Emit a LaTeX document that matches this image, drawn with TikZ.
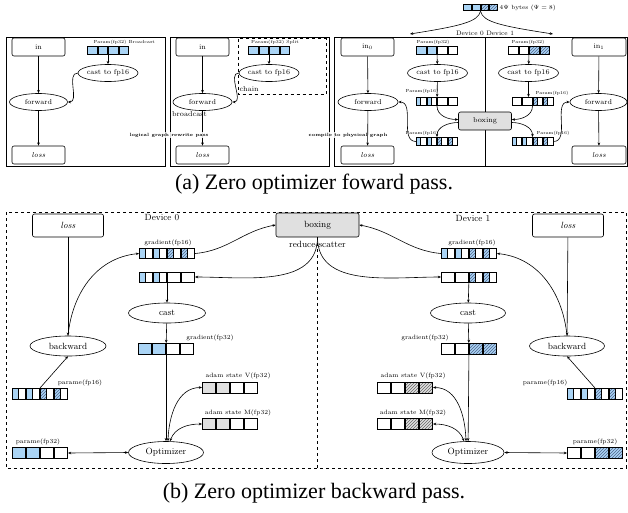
\documentclass[tikz,border=0pt]{standalone}
\usepackage{fontspec}
\newfontfamily\capfont{Liberation Serif}
\usetikzlibrary{shapes.geometric,patterns,arrows.meta}
\definecolor{fpblue}{RGB}{170,212,245}
\definecolor{fpgray}{RGB}{224,224,224}
\definecolor{hatchc}{RGB}{80,100,140}
\tikzset{
 cellline/.style={line width=0.7pt, draw=black},
 rowbox/.style={inner sep=0pt, outer sep=0pt, draw=none},
 rbox/.style={draw, rounded corners=2pt, line width=0.6pt, inner sep=0pt},
 ebox/.style={draw, ellipse, line width=0.6pt, inner sep=0pt},
 arr/.style={-{Stealth[length=3.2pt,width=2.6pt]}, line width=0.6pt},
 darr/.style={{Stealth[length=3.2pt,width=2.6pt]}-{Stealth[length=3.2pt,width=2.6pt]}, line width=0.6pt},
 fa/.style={font=\fontsize{7.2}{8}\selectfont},
 fb/.style={font=\fontsize{9}{10}\selectfont},
 tinyl/.style={font=\fontsize{4.4}{5}\selectfont, inner sep=0.3pt},
 smalll/.style={font=\fontsize{6.2}{7}\selectfont, inner sep=0.3pt},
 passl/.style={font=\fontsize{4.6}{5}\selectfont\bfseries, fill=white, fill opacity=0.85, text opacity=1, inner sep=0.8pt},
 capl/.style={font=\capfont\fontsize{22}{26}\selectfont, inner sep=0pt},
}
\newcommand{\zcW}[4]{\draw[cellline,fill=white] (#1+0.5,#2-0.5) rectangle (#1+#3-0.5,#2-#4+0.5);}
\newcommand{\zcB}[4]{\draw[cellline,fill=fpblue] (#1+0.5,#2-0.5) rectangle (#1+#3-0.5,#2-#4+0.5);}
\newcommand{\zcG}[4]{\draw[cellline,fill=fpgray] (#1+0.5,#2-0.5) rectangle (#1+#3-0.5,#2-#4+0.5);}
\newcommand{\zcH}[4]{\fill[fpblue] (#1+0.5,#2-0.5) rectangle (#1+#3-0.5,#2-#4+0.5);
 \fill[pattern=north east lines,pattern color=hatchc] (#1+0.5,#2-0.5) rectangle (#1+#3-0.5,#2-#4+0.5);
 \draw[cellline] (#1+0.5,#2-0.5) rectangle (#1+#3-0.5,#2-#4+0.5);}
\newcommand{\zcK}[4]{\fill[fpgray] (#1+0.5,#2-0.5) rectangle (#1+#3-0.5,#2-#4+0.5);
 \fill[pattern=north east lines,pattern color=black!60] (#1+0.5,#2-0.5) rectangle (#1+#3-0.5,#2-#4+0.5);
 \draw[cellline] (#1+0.5,#2-0.5) rectangle (#1+#3-0.5,#2-#4+0.5);}
\newcommand{\zcb}[4]{\fill[white] (#1+0.5,#2-0.5) rectangle (#1+#3-0.5,#2-#4+0.5);
 \fill[fpblue] (#1+0.5,#2-0.5) rectangle (#1+0.42*#3,#2-#4+0.5);
 \draw[cellline] (#1+0.5,#2-0.5) rectangle (#1+#3-0.5,#2-#4+0.5);
 \draw[cellline] (#1+0.42*#3,#2-0.5) -- (#1+0.42*#3,#2-#4+0.5);}
\newcommand{\zch}[4]{\fill[white] (#1+0.5,#2-0.5) rectangle (#1+#3-0.5,#2-#4+0.5);
 \fill[fpblue] (#1+0.5,#2-0.5) rectangle (#1+0.42*#3,#2-#4+0.5);
 \fill[pattern=north east lines,pattern color=hatchc] (#1+0.5,#2-0.5) rectangle (#1+0.42*#3,#2-#4+0.5);
 \draw[cellline] (#1+0.5,#2-0.5) rectangle (#1+#3-0.5,#2-#4+0.5);
 \draw[cellline] (#1+0.42*#3,#2-0.5) -- (#1+0.42*#3,#2-#4+0.5);}
% name, cx, cy (pixels down), cell width, height, types
\newcommand{\cellrow}[6]{%
 \node[rowbox, minimum width=4*#4pt, minimum height=#5pt] (#1) at (#2,-#3) {};
 \foreach \ctype [count=\ci] in {#6}{%
  \pgfmathsetmacro{\xa}{#2-2*#4+(\ci-1)*#4}%
  \pgfmathsetmacro{\ya}{-#3+#5/2}%
  \csname zc\ctype\endcsname{\xa}{\ya}{#4}{#5}%
 }%
}
\begin{document}
\begin{tikzpicture}[x=1pt,y=1pt]
\useasboundingbox (0,0) rectangle (628,-512);

% ================= (a) =================
\draw[line width=0.8pt] (6,-37) rectangle (165,-166);
\draw[line width=0.8pt] (170,-37) rectangle (329,-166);
\draw[line width=0.8pt] (334,-37) rectangle (627,-166);
\draw[line width=0.8pt] (485,-37) -- (485,-166);

% panel 1
\node[rbox, fa, minimum width=53pt, minimum height=18pt] (inA) at (38.5,-47) {in};
\node[ebox, fa, minimum width=58pt, minimum height=17pt] (fwA) at (38.5,-102) {forward};
\node[rbox, fa, minimum width=53pt, minimum height=18pt] (lossA) at (38.5,-155) {\itshape loss};
\cellrow{pA}{108}{50.5}{10.5}{9}{B,B,B,B}
\node[tinyl, anchor=west] (pAl) at (93,-42) {Param(fp32) Broadcast};
\node[ebox, fa, minimum width=59pt, minimum height=17pt] (cA) at (108,-73) {cast to fp16};
\draw[arr] (inA) -- (fwA);
\draw[arr] (fwA) -- (lossA);
\draw[arr] (pA) -- (cA);
\draw[arr] (cA.west) to[out=180,in=0] (fwA.east);

% panel 2
\node[rbox, fa, minimum width=53pt, minimum height=18pt] (inB) at (202.5,-47) {in};
\node[ebox, fa, minimum width=59pt, minimum height=17pt] (fwB) at (202.5,-102) {forward};
\node[rbox, fa, minimum width=53pt, minimum height=18pt] (lossB) at (202.5,-155) {\itshape loss};
\draw[dashed, line width=0.7pt] (238,-38.5) rectangle (326,-94);
\cellrow{pB}{269}{50.5}{10.5}{9}{B,B,B,B}
\node[tinyl] (pBl) at (275,-42) {Param(fp32) Split};
\node[ebox, fa, minimum width=58pt, minimum height=17pt] (cB) at (269,-73) {cast to fp16};
\node[fa, anchor=west, inner sep=0pt] (chainl) at (239.5,-89) {chain};
\node[fa, anchor=west, inner sep=0pt] (bcl) at (172,-114) {broadcast};
\draw[arr] (inB) -- (fwB);
\draw[arr] (fwB) -- (lossB);
\draw[arr] (pB) -- (cB);
\draw[arr] (cB.west) to[out=180,in=0] (fwB.east);

\node[passl] (lgl) at (169,-135) {logical graph rewrite pass};
\node[passl] (cpl) at (348,-135) {compile to physical graph};

% panel 3 - device 0
\node[rbox, fa, minimum width=53pt, minimum height=18pt] (in0) at (367.5,-47) {in$_0$};
\node[ebox, fa, minimum width=60pt, minimum height=17pt] (fw0) at (368,-102) {forward};
\node[rbox, fa, minimum width=53pt, minimum height=18pt] (loss0) at (367.5,-155) {\itshape loss};
\cellrow{pa0}{437}{50.5}{10.5}{9}{B,B,W,W}
\node[tinyl] (pa0l) at (433,-42) {Param(fp32)};
\node[ebox, fa, minimum width=59pt, minimum height=17pt] (c0) at (437.5,-73) {cast to fp16};
\cellrow{pb0}{437}{101.5}{10.5}{9}{b,b,W,W}
\node[tinyl] (pb0l) at (422,-91) {Param(fp16)};
\cellrow{pc0}{437}{141.5}{10.5}{9}{b,b,h,h}
\node[tinyl] (pc0l) at (422,-133) {Param(fp16)};
\node[rbox, fill=fpgray, fa, minimum width=53pt, minimum height=18pt] (boxA) at (485,-121) {boxing};
% device 1
\cellrow{pa1}{529}{50.5}{10.5}{9}{W,W,H,H}
\node[tinyl] (pa1l) at (528,-42) {Param(fp32)};
\node[ebox, fa, minimum width=57pt, minimum height=17pt] (c1) at (528.5,-73) {cast to fp16};
\cellrow{pb1}{532.5}{101.5}{10.5}{9}{W,W,h,h}
\node[tinyl] (pb1l) at (552,-93) {Param(fp16)};
\cellrow{pc1}{532.5}{141.5}{10.5}{9}{b,b,h,h}
\node[tinyl] (pc1l) at (553,-133) {Param(fp16)};
\node[rbox, fa, minimum width=54pt, minimum height=18pt] (in1) at (599,-47) {in$_1$};
\node[ebox, fa, minimum width=57pt, minimum height=17pt] (fw1) at (598.5,-102) {forward};
\node[rbox, fa, minimum width=54pt, minimum height=18pt] (loss1) at (599,-155) {\itshape loss};

\draw[arr] (in0) -- (fw0);
\draw[arr] (fw0) -- (loss0);
\draw[arr] (pa0) -- (c0);
\draw[arr] (c0) -- (pb0);
\draw[arr] (pb0.south) to[out=-90,in=180] ([yshift=1.5pt]boxA.west);
\draw[arr] ([yshift=-1.5pt]boxA.west) to[out=180,in=90] (pc0.north);
\draw[arr] (pc0.west) to[out=180,in=0] (fw0.east);
\draw[arr] (in1) -- (fw1);
\draw[arr] (fw1) -- (loss1);
\draw[arr] (pa1) -- (c1);
\draw[arr] (c1) -- (c1 |- pb1.north);
\draw[arr] (pb1.south) to[out=-90,in=0] ([yshift=1.5pt]boxA.east);
\draw[arr] ([yshift=-1.5pt]boxA.east) to[out=0,in=90] (pc1.north);
\draw[arr] (pc1.east) to[out=0,in=180] (fw1.west);

% header
\cellrow{hdr}{480.5}{7.5}{8.75}{7.5}{B,B,H,H}
\node[font=\fontsize{6}{7}\selectfont, anchor=west, inner sep=0.5pt] (hdrl) at (499,-8) {4$\Psi$ bytes ($\Psi=8$)};
\coordinate (d0) at (410,-34);
\coordinate (d1) at (553,-34);
\draw[arr] (hdr.south) .. controls (478,-22) and (460,-26) .. (d0);
\draw[arr] (hdr.south) .. controls (483,-22) and (501,-26) .. (d1);
\node[font=\fontsize{6.5}{7}\selectfont, inner sep=0pt] (devl) at (485,-33) {Device 0 Device 1};

\node[capl] (capa) at (314,-184) {(a) Zero optimizer foward pass.};

% ================= (b) =================
\draw[dashed, line width=0.7pt] (6,-212) rectangle (626,-468);
\node[rbox, fill=fpgray, fb, minimum width=83pt, minimum height=24pt] (boxB) at (317.5,-225) {boxing};
\coordinate (divb) at (317.5,-468);
\draw[dashed, line width=0.7pt] (boxB.south) -- (divb);
\node[fb, inner sep=0pt] (rsl) at (317.5,-244) {reduce-scatter};
\node[fb, inner sep=0pt] (dev0) at (162,-218) {Device 0};
\node[fb, inner sep=0pt] (dev1) at (473,-218) {Device 1};

% left
\node[rbox, fb, minimum width=71pt, minimum height=23pt] (lossL) at (68,-225.5) {\itshape loss};
\node[ebox, fb, minimum width=76pt, minimum height=20pt] (backL) at (68,-346) {backward};
\cellrow{gaL}{167}{253.5}{14}{11}{b,b,h,h}
\node[smalll] (gaLl) at (168,-243) {gradient(fp16)};
\cellrow{gbL}{167}{277}{14}{11}{b,b,W,W}
\node[ebox, fb, minimum width=77pt, minimum height=20pt] (castL) at (167,-313) {cast};
\cellrow{g32L}{166}{349}{14}{12}{B,B,W,W}
\node[smalll] (g32Ll) at (210,-338) {gradient(fp32)};
\cellrow{vL}{230}{387.5}{14}{12}{G,G,W,W}
\node[smalll] (vLl) at (238,-376) {adam state V(fp32)};
\cellrow{mL}{230}{424}{14}{12}{G,G,W,W}
\node[smalll] (mLl) at (238,-413) {adam state M(fp32)};
\node[ebox, fb, minimum width=75pt, minimum height=22pt] (optL) at (166,-452.5) {Optimizer};
\cellrow{p32L}{40}{453}{14}{12}{B,B,W,W}
\node[smalll] (p32Ll) at (38,-442) {parame(fp32)};
\cellrow{p16L}{40}{394}{14}{12}{b,b,h,h}
\node[smalll] (p16Ll) at (80,-383) {parame(fp16)};

\draw[arr] (lossL) -- (backL);
\draw[arr] (backL.north) .. controls (72,-295) and (95,-258) .. (gaL.west);
\draw[arr] (gaL.east) to[out=5,in=190] (boxB.west);
\draw[arr] (boxB.south) to[out=-90,in=0] (gbL.east);
\draw[arr] (gbL) -- (castL);
\draw[arr] (castL) -- (g32L);
\draw[arr] (g32L) -- (optL);
\draw[darr] ([xshift=2pt]optL.north) to[out=88,in=180] (vL.west);
\draw[darr] ([xshift=4pt]optL.north) to[out=70,in=180] (mL.west);
\draw[darr] (p32L.east) -- (optL.west);
\draw[arr] (p16L.north) -- (backL.south);

% right
\node[rbox, fb, minimum width=71pt, minimum height=23pt] (lossR) at (568,-225.5) {\itshape loss};
\node[ebox, fb, minimum width=75pt, minimum height=20pt] (backR) at (567,-346) {backward};
\cellrow{gaR}{469}{253.5}{14}{11}{b,b,h,h}
\node[smalll] (gaRl) at (472,-243) {gradient(fp16)};
\cellrow{gbR}{469}{277}{14}{11}{W,W,h,h}
\node[ebox, fb, minimum width=75pt, minimum height=20pt] (castR) at (468,-313) {cast};
\cellrow{g32R}{469}{349}{14}{12}{W,W,H,H}
\node[smalll] (g32Rl) at (425,-338) {gradient(fp32)};
\cellrow{vR}{405}{387.5}{14}{12}{W,W,K,K}
\node[smalll] (vRl) at (413,-376) {adam state V(fp32)};
\cellrow{mR}{405}{424}{14}{12}{W,W,K,K}
\node[smalll] (mRl) at (413,-413) {adam state M(fp32)};
\node[ebox, fb, minimum width=72pt, minimum height=22pt] (optR) at (468,-452.5) {Optimizer};
\cellrow{p32R}{595}{453}{14}{12}{W,W,H,H}
\node[smalll] (p32Rl) at (595,-442) {parame(fp32)};
\cellrow{p16R}{595}{394}{14}{12}{b,b,h,h}
\node[smalll] (p16Rl) at (545,-383) {parame(fp16)};

\draw[arr] (lossR) -- (backR);
\draw[arr] (backR.north) .. controls (563,-295) and (540,-258) .. (gaR.east);
\draw[arr] (gaR.west) to[out=175,in=-10] (boxB.east);
\draw[arr] (boxB.south) to[out=-90,in=180] (gbR.west);
\draw[arr] (gbR) -- (castR);
\draw[arr] (castR) -- (g32R);
\draw[arr] (g32R) -- (optR);
\draw[darr] ([xshift=-2pt]optR.north) to[out=92,in=0] (vR.east);
\draw[darr] ([xshift=-4pt]optR.north) to[out=110,in=0] (mR.east);
\draw[darr] (optR.east) -- (p32R.west);
\draw[arr] (p16R.north) -- (backR.south);

\node[capl] (capb) at (314,-493) {(b) Zero optimizer backward pass.};
\end{tikzpicture}
\end{document}
